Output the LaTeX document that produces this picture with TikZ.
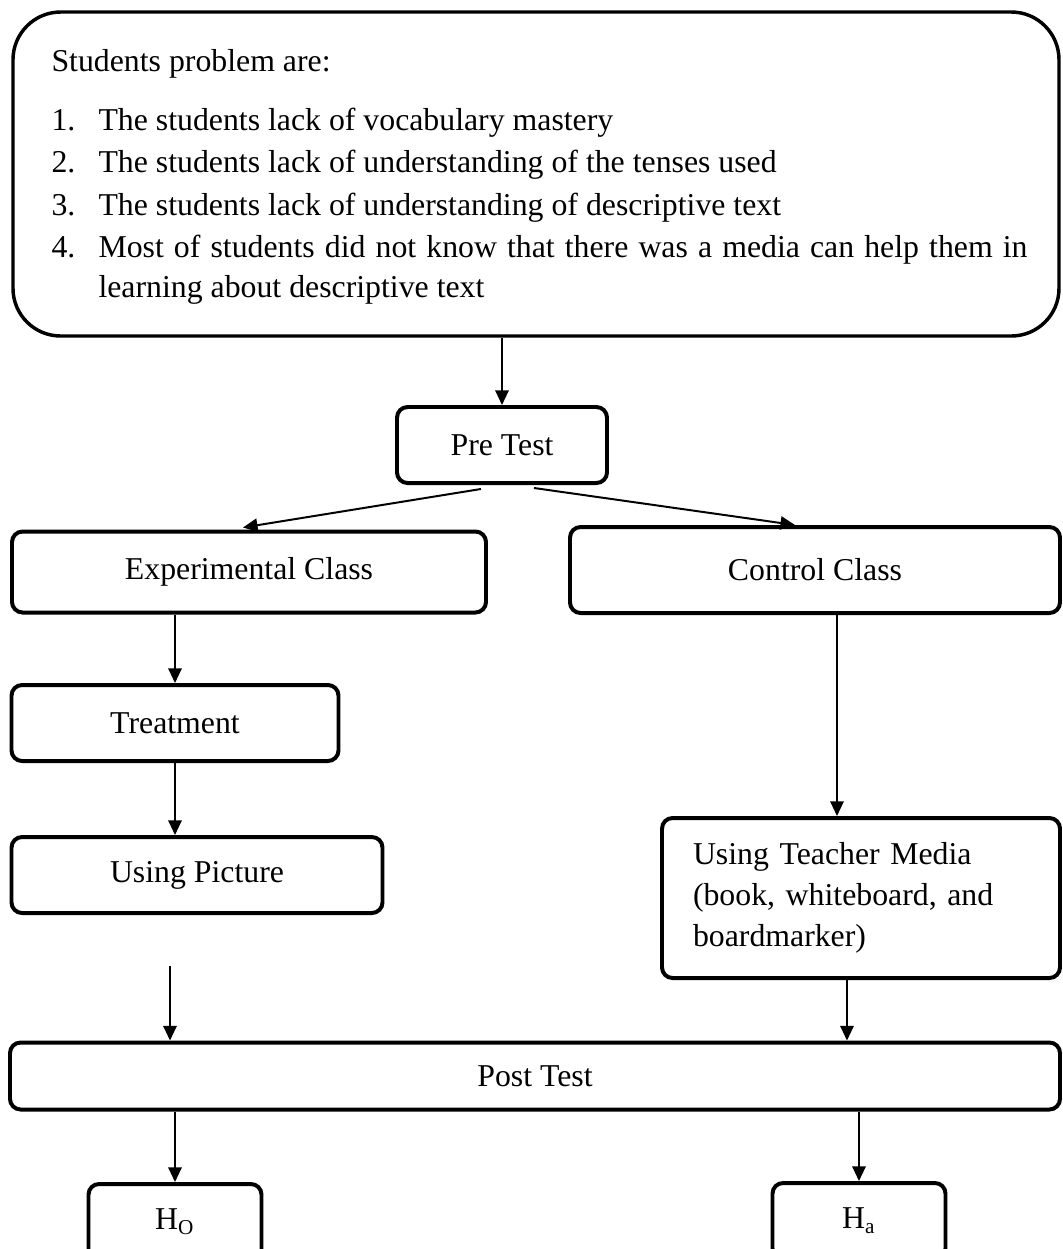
\documentclass[tikz,border=0pt]{standalone}
\usepackage{fontspec}
\setmainfont{Liberation Serif}
\usetikzlibrary{arrows.meta,positioning,calc}

\begin{document}
\begin{tikzpicture}[x=0.3774pt, y=-0.3774pt,
  every node/.style={font=\fontsize{12pt}{15.4pt}\selectfont},
  box/.style 2 args={draw=black, line width=1.5pt, rounded corners=4pt, minimum width=#1*0.3774pt, minimum height=#2*0.3774pt, inner sep=0pt},
  txt/.style={anchor=base west, inner sep=0pt},
  arr/.style={-{Triangle[length=5.5pt,width=5pt]}, line width=0.75pt}]
  \useasboundingbox (0,0) rectangle (1063,1249);

  % problems
  \node (problem) [box={1046}{324}, rounded corners=18pt, line width=1.3pt] at (536,174) {};
  \node (head) [txt] at (51,71) {Students problem are:};
  \node (n1) [txt] at (51,130) {1.};
  \node (n2) [txt] at (51,172) {2.};
  \node (n3) [txt] at (51,215) {3.};
  \node (n4) [txt] at (51,257) {4.};
  \node (t1) [txt] at (98,130) {The students lack of vocabulary mastery};
  \node (t2) [txt] at (98,172) {The students lack of understanding of the tenses used};
  \node (t3) [txt] at (98,215) {The students lack of understanding of descriptive text};
  \node (t4) [txt, text width=929*0.3774pt, align=justify] at (98,257) {Most of students did not know that there was a media can help them in learning about descriptive text};

  % classes
  \node (pre) [box={210}{76}] at (502,445) {Pre Test};
  \node (exp) [box={474}{81}] at (249,572) {Experimental Class};
  \node (ctrl) [box={490}{86}] at (815,570) {Control Class};
  \node (treat) [box={327}{76}] at (175,723) {Treatment};
  \node (pic) [box={371}{76}] at (197,875) {Using Picture};
  \node (media) [box={398}{160}, text width=336*0.3774pt, align=left] at (861,898) {Using Teacher Media\\(book, whiteboard, and\\boardmarker)};
  \node (post) [box={1050}{67}] at (535,1076) {Post Test};
  \node (h0) [box={173}{76}] at (175,1222) {H\textsubscript{O}};
  \node (ha) [box={173}{76}] at (859,1221) {H\textsubscript{a}};
  \coordinate (free) at (170,966);

  \draw [arr] (problem.south -| pre.north) -- (pre.north);
  \draw [arr] ($(pre.south)+(-21,4)$) -- ($(exp.north)+(-6,-2)$);
  \draw [arr] ($(pre.south)+(32,3)$) -- ($(ctrl.north)+(-20,0)$);
  \draw [arr] (exp.south -| treat.north) -- (treat.north);
  \draw [arr] (treat.south) -- (treat.south |- pic.north);
  \draw [arr] (free) -- (free |- post.north);
  \draw [arr] ($(ctrl.south)+(22,0)$) -- ($(media.north)+(-24,0)$);
  \coordinate (mout) at ($(media.south)+(-14,0)$);
  \draw [arr] (mout) -- (mout |- post.north);
  \draw [arr] (post.south -| h0.north) -- (h0.north);
  \draw [arr] (post.south -| ha.north) -- (ha.north);
\end{tikzpicture}
\end{document}
